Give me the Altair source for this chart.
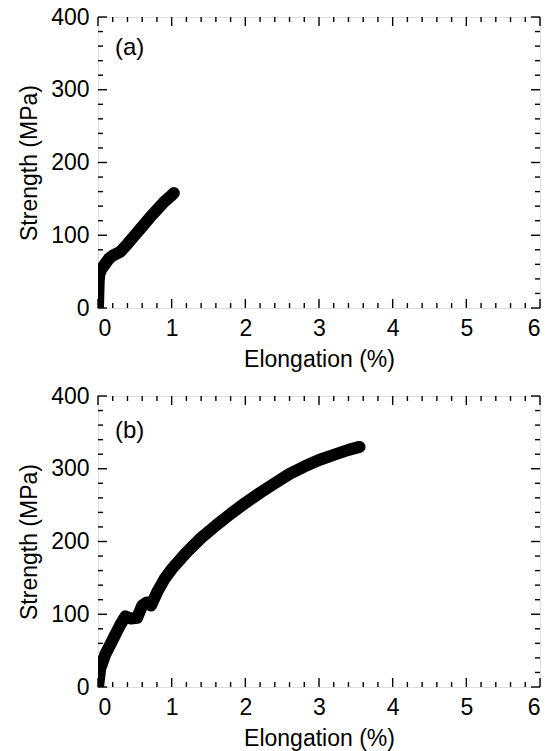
import altair as alt
import pandas as pd

# Panel (a) data
a_elong = [0.0, 0.005, 0.01, 0.02, 0.05, 0.1, 0.15, 0.2, 0.3, 0.4, 0.5, 0.6, 0.7, 0.8, 0.9, 1.0, 1.03]
a_strength = [0, 20, 38, 47, 54, 61, 68, 72, 77, 88, 100, 112, 124, 135, 146, 155, 158]

# Panel (b) data
b_elong = [0.0, 0.03, 0.1, 0.2, 0.3, 0.37, 0.45, 0.53, 0.6, 0.66, 0.72, 0.8, 0.9, 1.0, 1.2,
           1.4, 1.6, 1.8, 2.0, 2.2, 2.4, 2.6, 2.8, 3.0, 3.2, 3.4, 3.55]
b_strength = [0, 25, 45, 65, 85, 97, 94, 95, 112, 116, 112, 130, 148, 162, 185,
              205, 222, 238, 253, 267, 280, 293, 303, 312, 319, 326, 330]

x_major = [0, 1, 2, 3, 4, 5, 6]
x_minor = [round(0.2 * i, 1) for i in range(31) if i % 5 != 0]
y_major = [0, 100, 200, 300, 400]
y_minor = [20 * i for i in range(21) if i % 5 != 0]

W, H = 442, 291
FONT = "Liberation Sans"
FS = 23
MAJ, MIN = 9, 5

xscale = alt.Scale(domain=[0, 6], nice=False, zero=False)
yscale = alt.Scale(domain=[0, 400], nice=False, zero=False)


def panel(xs, ys, label, label_y):
    df = pd.DataFrame({"x": xs, "y": ys})
    line = alt.Chart(df).mark_line(
        color="black", strokeWidth=12, strokeCap="round", strokeJoin="round", clip=True
    ).encode(
        x=alt.X("x:Q", scale=xscale,
                axis=alt.Axis(title="Elongation (%)", values=x_major, format="d",
                              ticks=False, domain=False, grid=False,
                              labelFont=FONT, labelFontSize=FS, labelColor="black",
                              titleFont=FONT, titleFontSize=FS, titleColor="black",
                              titleFontWeight="normal", labelPadding=9, titlePadding=8)),
        y=alt.Y("y:Q", scale=yscale,
                axis=alt.Axis(title="Strength (MPa)", values=y_major, format="d",
                              ticks=False, domain=False, grid=False,
                              labelFont=FONT, labelFontSize=FS, labelColor="black",
                              titleFont=FONT, titleFontSize=FS, titleColor="black",
                              titleFontWeight="normal", labelPadding=9, titlePadding=9)),
    )
    layers = [line]
    for vals, ln in [(x_major, MAJ), (x_minor, MIN)]:
        d = pd.DataFrame({"x": vals})
        layers.append(alt.Chart(d).mark_rule(color="black", strokeWidth=1.4).encode(
            x=alt.X("x:Q", scale=xscale), y=alt.value(H), y2=alt.value(H - ln)))
        layers.append(alt.Chart(d).mark_rule(color="black", strokeWidth=1.4).encode(
            x=alt.X("x:Q", scale=xscale), y=alt.value(0), y2=alt.value(ln)))
    for vals, ln in [(y_major, MAJ), (y_minor, MIN)]:
        d = pd.DataFrame({"y": vals})
        layers.append(alt.Chart(d).mark_rule(color="black", strokeWidth=1.4).encode(
            y=alt.Y("y:Q", scale=yscale), x=alt.value(0), x2=alt.value(ln)))
        layers.append(alt.Chart(d).mark_rule(color="black", strokeWidth=1.4).encode(
            y=alt.Y("y:Q", scale=yscale), x=alt.value(W), x2=alt.value(W - ln)))
    txt = alt.Chart(pd.DataFrame({"t": [label]})).mark_text(
        font=FONT, fontSize=FS + 1, align="left", baseline="middle", color="black"
    ).encode(text="t:N", x=alt.value(17), y=alt.value(label_y))
    layers.append(txt)
    return alt.layer(*layers).properties(width=W, height=H)


chart = alt.vconcat(
    panel(a_elong, a_strength, "(a)", 31),
    panel(b_elong, b_strength, "(b)", 35),
    spacing=12,
).properties(
    padding={"top": 5, "left": 18, "right": 5, "bottom": 0}
).configure_view(
    stroke="black", strokeWidth=1.6
).configure(background="white")

chart.save("out.html", embed_options={"renderer": "svg", "actions": False})
